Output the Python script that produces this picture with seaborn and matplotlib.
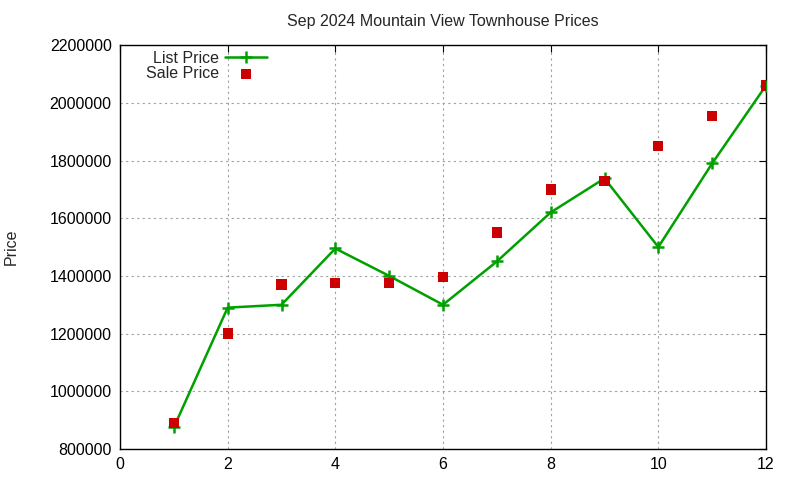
import pandas as pd
import matplotlib.pyplot as plt
import seaborn as sns

# Dados
units = [1, 2, 3, 4, 5, 6, 7, 8, 9, 10, 11, 12]
list_price = [875000, 1290000, 1300000, 1495000, 1400000, 1300000,
              1450000, 1620000, 1738000, 1500000, 1790000, 2060000]
sale_price = [890000, 1200000, 1370000, 1375000, 1375000, 1395000,
              1550000, 1700000, 1730000, 1850000, 1955000, 2060000]

df = pd.DataFrame({'n': units, 'list': list_price, 'sale': sale_price})

sns.set_style("white")
plt.rcParams['font.family'] = ['Liberation Sans', 'DejaVu Sans']

fig, ax = plt.subplots(figsize=(8, 4.8), dpi=100)
plt.subplots_adjust(left=0.15, right=0.9575, top=0.906, bottom=0.0646)

sns.lineplot(data=df, x='n', y='list', ax=ax, color='#00a000', linewidth=1.8,
             marker='+', markersize=8, markeredgewidth=1.8, markeredgecolor='#00a000',
             label='List Price', zorder=3)
sns.scatterplot(data=df, x='n', y='sale', ax=ax, color='#cc0000', marker='s',
                s=55, edgecolor='none', label='Sale Price', zorder=4)

ax.set_xlim(0, 12)
ax.set_ylim(800000, 2200000)
ax.set_xticks(range(0, 13, 2))
ax.set_yticks(range(800000, 2200001, 200000))
ax.ticklabel_format(axis='y', style='plain')
ax.grid(True, color='#a0a0a0', linestyle=(0, (2, 3)), linewidth=0.8)
ax.tick_params(direction='in', length=5, top=True, right=True, labelsize=11.5,
               colors='black', pad=6)
for s in ax.spines.values():
    s.set_color('black')
    s.set_linewidth(1)

ax.set_title('Sep 2024 Mountain View Townhouse Prices', fontsize=11.5, pad=14)
ax.set_xlabel('')
ax.set_ylabel('Price', fontsize=11.5)
ax.yaxis.set_label_coords(-0.157, 0.5)

ax.legend(loc='upper left', bbox_to_anchor=(0.025, 1.01), frameon=False,
          markerfirst=False, fontsize=11.5, handlelength=2.6, handletextpad=0.4,
          labelspacing=0.05, borderaxespad=0.2)

plt.savefig('out.png', dpi=100)
